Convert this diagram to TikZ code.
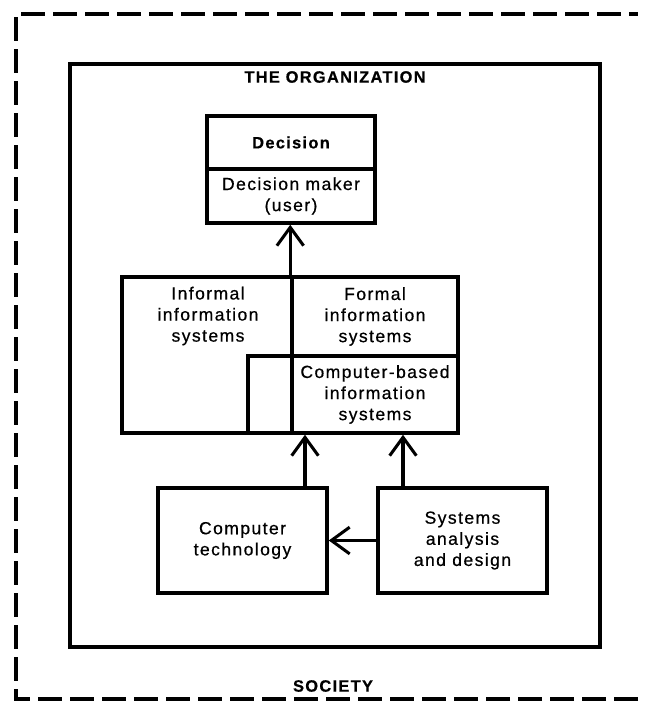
\documentclass[tikz,border=0pt]{standalone}
\usepackage{fontspec}
\setmainfont{Liberation Sans}[LetterSpace=8,FakeBold=0.6]
\usetikzlibrary{arrows.meta}

\newcommand{\boxfont}{\fontsize{15}{18}\selectfont}
\newcommand{\headfont}{\fontsize{14}{16}\selectfont\bfseries}

\tikzset{
	box/.style={draw,line width=3pt,inner sep=0pt,align=center,font=\boxfont},
	txt/.style={inner sep=0pt,align=center,font=\boxfont},
	heading/.style={inner sep=0pt,font=\headfont},
	arr/.style={line width=2.6pt,-{Straight Barb[length=0.55cm,width=0.8cm]}},
	society/.style={line width=3pt,dash pattern=on 0.72cm off 0.24cm},
}

\begin{document}
\begin{tikzpicture}[x=0.03cm,y=-0.03cm]
			\useasboundingbox (0,0) rectangle (644,702);
			
			\draw[society] (638,699) -- (16,699) -- (16,14) -- (638,14);
			\node[heading] (soc) at (333,686) {SOCIETY};
			
			\node[draw,line width=3.5pt,minimum width=15.9cm,minimum height=17.49cm] (org) at (335,355.5) {};
			\node[heading] (orgname) at (335,77) {THE ORGANIZATION};
			
			\node[box,minimum width=5.04cm,minimum height=1.59cm,font=\headfont] (dec) at (291,142.5) {Decision};
			\node[box,minimum width=5.04cm,minimum height=1.62cm] (user) at (291,196) {Decision maker\\(user)};
			
			\node[box,minimum width=10.08cm,minimum height=4.68cm] (infsys) at (290,355) {};
			\node[txt] (informal) at (208,316) {Informal\\information\\systems};
			\node[box,minimum width=4.98cm,minimum height=2.37cm] (formal) at (375,316.5) {Formal\\information\\systems};
			\node[box,minimum width=4.98cm,minimum height=2.31cm] (cbis) at (375,394.5) {Computer-based\\information\\systems};
			\node[box,minimum width=1.32cm,minimum height=2.31cm] (overlap) at (270,394.5) {};
			
			\node[box,minimum width=5.07cm,minimum height=3.15cm] (comp) at (242.5,540.5) {Computer\\technology};
			\node[box,minimum width=5.07cm,minimum height=3.15cm] (sad) at (462.5,540.5) {Systems\\analysis\\and design};
			
			\coordinate (ct) at (305,0); \coordinate (sa) at (403,0);
			\draw[arr] (infsys.north -| formal.west) -- (user.south -| formal.west);
			\draw[arr] (comp.north -| ct) -- (infsys.south -| ct);
			\draw[arr] (sad.north -| sa) -- (infsys.south -| sa);
			\draw[arr] (sad.west) -- (comp.east);
\end{tikzpicture}
\end{document}
